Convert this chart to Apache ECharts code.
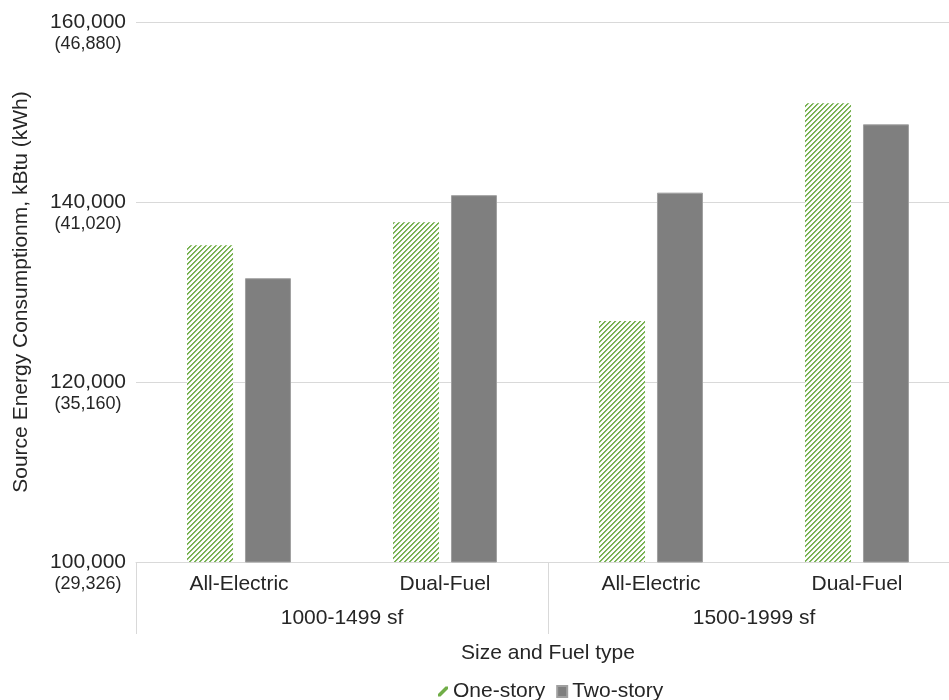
<!DOCTYPE html>
<html>
<head>
<meta charset="utf-8">
<script src="https://cdn.jsdelivr.net/npm/echarts@6/dist/echarts.min.js"></script>
<style>
  html, body { margin: 0; padding: 0; background: #ffffff; }
  #chart { width: 949px; height: 700px; }
</style>
</head>
<body>
<div id="chart"></div>
<script>
// Home size groups and fuel types (two-level category axis)
const sizeGroups = ['1000-1499 sf', '1500-1999 sf'];
const fuelTypes = ['All-Electric', 'Dual-Fuel'];

// Source energy consumption, kBtu
const oneStory = [135200, 137760, 126780, 150970];
const twoStory = [131530, 140760, 141040, 148630];

// Y ticks in kBtu with their kWh equivalents
const yTicksKBtu = [100000, 120000, 140000, 160000];
const yTicksKWh = ['(29,326)', '(35,160)', '(41,020)', '(46,880)'];

const FONT = '"Liberation Sans", Arial, sans-serif';
const TEXT = '#262626';
const GRID = '#d9d9d9';
const GREEN = '#70ad47';

// Upward diagonal hatch tile for the one-story bars
function makeHatch() {
  const n = 10, period = 5;
  const c = document.createElement('canvas');
  c.width = n; c.height = n;
  const ctx = c.getContext('2d');
  const img = ctx.createImageData(n, n);
  for (let y = 0; y < n; y++) {
    for (let x = 0; x < n; x++) {
      const k = (x + y) % period;
      let rgb;
      if (k === 0 || k === 1) rgb = [122, 179, 84];
      else if (k === 2) rgb = [238, 245, 233];
      else rgb = [255, 255, 255];
      const i = (y * n + x) * 4;
      img.data[i] = rgb[0]; img.data[i + 1] = rgb[1]; img.data[i + 2] = rgb[2]; img.data[i + 3] = 255;
    }
  }
  ctx.putImageData(img, 0, 0);
  return c;
}
const hatch = makeHatch();

// Flattened category keys: one per (size group, fuel type)
const categories = [];
sizeGroups.forEach(g => fuelTypes.forEach(f => categories.push(g + '|' + f)));

const chart = echarts.init(document.getElementById('chart'), null, { renderer: 'canvas' });

chart.setOption({
  backgroundColor: '#ffffff',
  animation: false,
  textStyle: { fontFamily: FONT, color: TEXT },
  grid: { left: 136, right: -11, top: 22, bottom: 138, containLabel: false, outerBoundsMode: 'none' },
  legend: {
    top: 676,
    left: 433,
    itemWidth: 10,
    itemHeight: 11,
    itemGap: 11,
    textStyle: { fontFamily: FONT, fontSize: 21, color: TEXT },
    data: [
      { name: 'One-story', icon: 'path://M0,10L2.5,10L10,2.5L10,0L7.5,0L0,7.5Z', itemStyle: { color: GREEN } },
      { name: 'Two-story', icon: 'rect', itemStyle: { color: '#7f7f7f' } }
    ]
  },
  xAxis: [
    {
      type: 'category',
      position: 'bottom',
      data: categories,
      axisLine: { show: true, lineStyle: { color: GRID, width: 1 } },
      axisTick: { show: false },
      axisLabel: {
        margin: 12,
        fontFamily: FONT,
        fontSize: 21,
        color: TEXT,
        formatter: v => v.split('|')[1]
      }
    },
    {
      type: 'category',
      position: 'bottom',
      data: sizeGroups,
      axisLine: { show: false },
      axisTick: { show: true, length: 72, lineStyle: { color: GRID, width: 1 } },
      axisLabel: { margin: 46, fontFamily: FONT, fontSize: 21, color: TEXT },
      name: 'Size and Fuel type',
      nameLocation: 'middle',
      nameGap: 81,
      nameTextStyle: { fontFamily: FONT, fontSize: 21, color: TEXT }
    }
  ],
  yAxis: {
    type: 'value',
    min: 100000,
    max: 160000,
    interval: 20000,
    name: 'Source Energy Consumptionm, kBtu (kWh)',
    nameLocation: 'middle',
    nameGap: 104,
    nameTextStyle: { fontFamily: FONT, fontSize: 21, color: TEXT },
    axisLine: { show: false },
    axisTick: { show: false },
    splitLine: { lineStyle: { color: GRID, width: 1 } },
    axisLabel: {
      margin: 10,
      lineHeight: 22,
      formatter: v => {
        const i = yTicksKBtu.indexOf(v);
        const kwh = i >= 0 ? yTicksKWh[i] : '';
        return '{e| }\n{a|' + v.toLocaleString('en-US') + '}\n{b|' + kwh + '}';
      },
      rich: {
        e: { fontSize: 18, lineHeight: 23, align: 'center' },
        a: { fontFamily: FONT, fontSize: 21, lineHeight: 22, color: TEXT, align: 'center' },
        b: { fontFamily: FONT, fontSize: 18, lineHeight: 23, color: TEXT, align: 'center' }
      }
    }
  },
  series: [
    {
      name: 'One-story',
      type: 'bar',
      xAxisIndex: 0,
      data: oneStory,
      barWidth: 46,
      barGap: '26%',
      itemStyle: { color: { image: hatch, repeat: 'repeat' } }
    },
    {
      name: 'Two-story',
      type: 'bar',
      xAxisIndex: 0,
      data: twoStory,
      barWidth: 46,
      barGap: '26%',
      itemStyle: { color: '#7f7f7f', borderColor: '#a0a0a0', borderWidth: 1 }
    }
  ]
});
</script>
</body>
</html>
